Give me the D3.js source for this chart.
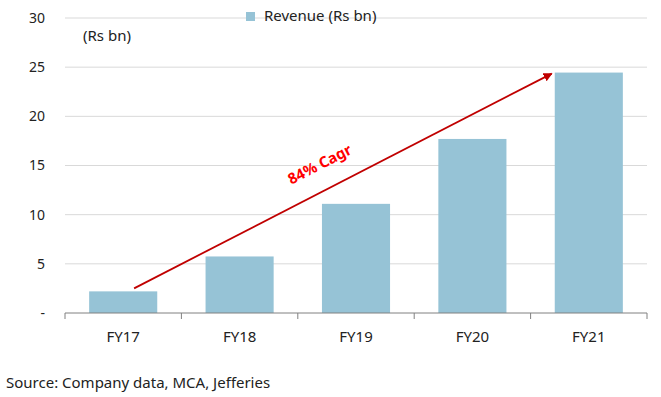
<!DOCTYPE html>
<html>
<head>
<meta charset="utf-8">
<script src="https://cdn.jsdelivr.net/npm/d3@7"></script>
<style>
  body { margin: 0; background: #fff; }
  text { font-family: "Segoe UI", "Noto Sans", sans-serif; fill: #222; }
</style>
</head>
<body>
<div id="chart"></div>
<script>
// ---- Data ----
const categories = ["FY17", "FY18", "FY19", "FY20", "FY21"];
const revenue = [2.2, 5.75, 11.1, 17.7, 24.45];
const yTicks = [0, 5, 10, 15, 20, 25, 30];

const width = 661, height = 397;
const margin = { top: 18, right: 14, bottom: 84, left: 65 };
const innerWidth = width - margin.left - margin.right;
const innerHeight = height - margin.top - margin.bottom;

const svg = d3.select("#chart")
    .append("svg")
    .attr("width", width)
    .attr("height", height)
    .append("g")
    .attr("transform", `translate(${margin.left},${margin.top})`);

// ---- Scales ----
const xScale = d3.scaleBand()
    .domain(categories)
    .range([0, innerWidth])
    .paddingInner(0.415)
    .paddingOuter(0.2075);

const yScale = d3.scaleLinear()
    .domain([0, 30])
    .range([innerHeight, 0]);

// ---- Gridlines ----
svg.selectAll(".grid")
    .data(yTicks.filter(d => d > 0))
    .join("line")
    .attr("x1", 0)
    .attr("x2", innerWidth)
    .attr("y1", d => yScale(d))
    .attr("y2", d => yScale(d))
    .attr("stroke", "#d9d9d9")
    .attr("stroke-width", 1);

// ---- Left tick labels ----
svg.selectAll(".ylab")
    .data(yTicks)
    .join("text")
    .attr("x", -20)
    .attr("y", d => yScale(d))
    .attr("dy", "0.35em")
    .attr("text-anchor", "end")
    .attr("font-size", 14)
    .text(d => d === 0 ? "-" : d);

// ---- Bars ----
svg.selectAll(".bar")
    .data(revenue)
    .join("rect")
    .attr("class", "bar")
    .attr("x", (d, i) => xScale(categories[i]))
    .attr("y", d => yScale(d))
    .attr("width", xScale.bandwidth())
    .attr("height", d => innerHeight - yScale(d))
    .attr("fill", "#96c3d6");

// ---- Bottom axis ----
const step = xScale.step();
svg.append("line")
    .attr("x1", 0).attr("x2", innerWidth)
    .attr("y1", innerHeight).attr("y2", innerHeight)
    .attr("stroke", "#808080");

svg.selectAll(".xtick")
    .data(d3.range(categories.length + 1))
    .join("line")
    .attr("x1", i => i * step)
    .attr("x2", i => i * step)
    .attr("y1", innerHeight)
    .attr("y2", innerHeight + 6)
    .attr("stroke", "#808080");

svg.selectAll(".xlab")
    .data(categories)
    .join("text")
    .attr("x", d => xScale(d) + xScale.bandwidth() / 2)
    .attr("y", innerHeight + 29)
    .attr("text-anchor", "middle")
    .attr("font-size", 15)
    .text(d => d);

// ---- Unit label ----
svg.append("text")
    .attr("x", 18)
    .attr("y", 23)
    .attr("font-size", 15)
    .text("(Rs bn)");

// ---- Legend ----
svg.append("rect")
    .attr("x", 181).attr("y", -6)
    .attr("width", 9).attr("height", 9)
    .attr("fill", "#96c3d6");
svg.append("text")
    .attr("x", 199).attr("y", -2)
    .attr("dy", "0.35em")
    .attr("font-size", 15)
    .text("Revenue (Rs bn)");

// ---- CAGR arrow ----
svg.append("defs").append("marker")
    .attr("id", "arrow")
    .attr("viewBox", "0 0 10 10")
    .attr("refX", 9).attr("refY", 5)
    .attr("markerWidth", 5).attr("markerHeight", 5)
    .attr("markerUnits", "strokeWidth")
    .attr("orient", "auto")
    .append("path")
    .attr("d", "M0,0 L10,5 L0,10 Z")
    .attr("fill", "#c00000");

const x0 = xScale("FY17") + xScale.bandwidth() * 0.66;
const y0 = yScale(revenue[0]) - 3;
const x1 = xScale("FY21") - 3;
const y1 = yScale(revenue[4]) + 1;
svg.append("line")
    .attr("x1", x0).attr("y1", y0)
    .attr("x2", x1).attr("y2", y1)
    .attr("stroke", "#c00000")
    .attr("stroke-width", 1.8)
    .attr("marker-end", "url(#arrow)");

const angle = Math.atan2(y1 - y0, x1 - x0) * 180 / Math.PI;
svg.append("text")
    .attr("transform", `translate(${257},${151}) rotate(${angle})`)
    .attr("text-anchor", "middle")
    .attr("font-size", 15)
    .attr("font-weight", "bold")
    .style("fill", "#ff0000")
    .text("84% Cagr");

// ---- Source ----
d3.select("svg").append("text")
    .attr("x", 6)
    .attr("y", 388)
    .attr("font-size", 15)
    .text("Source: Company data, MCA, Jefferies");
</script>
</body>
</html>
